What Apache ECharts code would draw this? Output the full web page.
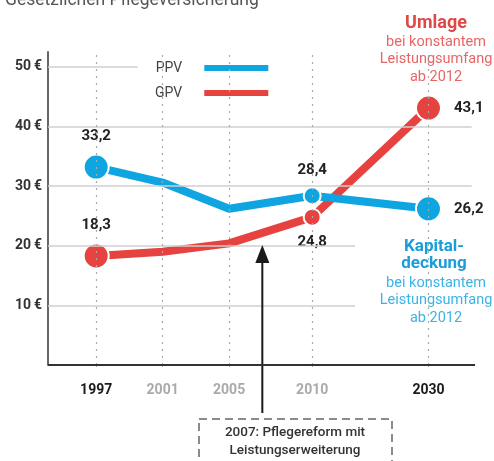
<!DOCTYPE html>
<html><head><meta charset="utf-8">
<script src="https://cdn.jsdelivr.net/npm/echarts@6/dist/echarts.min.js"></script>
<style>html,body{margin:0;padding:0;background:#fff}#c{width:494px;height:461px}</style>
</head><body><div id="c"></div>
<script>
const years = [1997, 2001, 2005, 2010, 2030];
const yearLabels = ['1997', '2001', '2005', '2010', '2030'];
const yearHighlight = [true, false, false, false, true];
const ppv = [33.2, 30.6, 26.2, 28.4, 26.2];
const gpv = [18.3, 19.0, 20.4, 24.8, 43.1];
const yTicks = [10, 20, 30, 40, 50];
const reformYear = 2007;

const BLUE = '#0ea5e0', RED = '#e6423f';
const FONT = 'Roboto';
const GRID = { left: 48, right: 19, top: 52, bottom: 96 };
const W = 494, H = 461;
const chart = echarts.init(document.getElementById('c'));

function mkData(vals, cfg) {
  return vals.map((v, i) => {
    const c = cfg[i] || {};
    const d = { value: [years[i], v] };
    if (c.size) { d.symbol = 'circle'; d.symbolSize = c.size; } else { d.symbol = 'none'; }
    if (c.label) {
      d.label = Object.assign({ show: true, formatter: () => String(v).replace('.', ','),
        fontSize: 15, fontWeight: 'bold', color: '#222', fontFamily: FONT }, c.label);
    }
    return d;
  });
}

const gridLine = (y, x2) => [{ coord: [1994.1, y] }, { coord: [x2, y] }];

chart.setOption({
  animation: false,
  grid: GRID,
  legend: {
    orient: 'vertical', left: 150, top: 56, align: 'right', itemWidth: 66, itemHeight: 8, itemGap: 11,
    icon: 'rect', textStyle: { fontSize: 14, color: '#444', fontFamily: FONT, padding: [0, 16, 0, 0] },
    data: ['PPV', 'GPV']
  },
  xAxis: {
    type: 'value', min: 1994.1, max: 2032.8,
    breaks: [{ start: 2011, end: 2029, gap: 5 }],
    breakArea: { show: false },
    axisLine: { show: false },
    axisTick: { show: true, customValues: years, length: 6, lineStyle: { color: '#aaa', type: [2, 4] } },
    axisLabel: { customValues: years, margin: 18, fontFamily: FONT,
      formatter: v => { const i = years.indexOf(v); return i < 0 ? '' : (yearHighlight[i] ? '{b|' : '{g|') + yearLabels[i] + '}'; },
      rich: {
        b: { fontSize: 14, fontWeight: 'bold', color: '#1a1a1a', fontFamily: FONT },
        g: { fontSize: 14, fontWeight: 'bold', color: '#aaa', fontFamily: FONT }
      } },
    splitLine: { show: false }
  },
  yAxis: {
    type: 'value', min: 0, max: 52.5,
    axisLine: { show: true, lineStyle: { color: '#666', width: 2 } },
    axisTick: { show: false },
    axisLabel: { customValues: yTicks, formatter: v => v + '\u2009€', fontSize: 14, fontWeight: 'bold',
      color: '#333', fontFamily: FONT, margin: 6 },
    splitLine: { show: false }
  },
  series: [
    {
      name: 'grid', type: 'line', data: [], silent: true, z: 1,
      markLine: {
        silent: true, symbol: 'none', label: { show: false },
        lineStyle: { color: '#cfcfcf', width: 1.5, type: 'solid' },
        data: [gridLine(50, 1999.5), gridLine(40, 2032.6), gridLine(30, 2032.6), gridLine(20, 2016.7), gridLine(10, 2016.7)]
      }
    },
    {
      name: 'vlines', type: 'line', data: [], silent: true, z: 1,
      markLine: {
        silent: true, symbol: 'none', label: { show: false },
        lineStyle: { color: '#aaa', width: 1.2, type: [2, 5] },
        data: years.map(y => ({ xAxis: y }))
      }
    },
    {
      name: 'PPV', type: 'line', color: BLUE, z: 3,
      lineStyle: { width: 8, color: BLUE }, itemStyle: { color: BLUE, borderColor: '#fff', borderWidth: 2 },
      data: mkData(ppv, [
        { size: 25, label: { position: 'top', distance: 10 } }, {}, {},
        { size: 17, label: { position: 'top', distance: 8 } },
        { size: 25, label: { position: 'right', distance: 12 } }
      ])
    },
    {
      name: 'GPV', type: 'line', color: RED, z: 2,
      lineStyle: { width: 8, color: RED }, itemStyle: { color: RED, borderColor: '#fff', borderWidth: 2 },
      data: mkData(gpv, [
        { size: 25, label: { position: 'top', distance: 10 } }, {}, {},
        { size: 17, label: { position: 'bottom', distance: 8 } },
        { size: 25, label: { position: 'right', distance: 12 } }
      ])
    }
  ]
});

const ax = chart.convertToPixel({ xAxisIndex: 0 }, reformYear);
const y0 = H - GRID.bottom;
const xL = GRID.left, xR = W - GRID.right;
const redLines = ['bei konstantem', 'Leistungsumfang', 'ab 2012'];
const blueLines = ['bei konstantem', 'Leistungsumfang', 'ab 2012'];
const txt = (x, y, t, size, weight, color, align) => ({
  type: 'text', x, y, style: { text: t, fontSize: size, fontWeight: weight, fill: color, fontFamily: FONT,
    align: align || 'center', verticalAlign: 'middle' }
});
chart.setOption({
  graphic: [
    { type: 'rect', shape: { x: xL, y: y0 - 1, width: xR - xL, height: 2 }, style: { fill: '#333' }, z: 100 },
    txt(5, 1, 'Gesetzlichen Pflegeversicherung', 17.5, 'normal', '#555', 'left'),
    txt(436, 23, 'Umlage', 18, 'bold', '#e04848'),
    ...redLines.map((t, i) => txt(436, 42 + i * 17.5, t, 14.5, 'normal', '#e86565')),
    txt(434, 247, 'Kapital-', 17, 'bold', '#1a9dd9'),
    txt(434, 264, 'deckung', 17, 'bold', '#1a9dd9'),
    ...blueLines.map((t, i) => txt(436, 283 + i * 17.5, t, 14.5, 'normal', '#3ab3e6')),
    { type: 'line', shape: { x1: ax, y1: 258, x2: ax, y2: 413 }, style: { stroke: '#1a1a1a', lineWidth: 2 }, z: 10 },
    { type: 'polygon', shape: { points: [[ax, 245], [ax - 7, 263], [ax + 7, 263]] }, style: { fill: '#1a1a1a' }, z: 10 },
    { type: 'rect', shape: { x: 199, y: 419, width: 193, height: 60 },
      style: { fill: 'none', stroke: '#666', lineWidth: 1.5, lineDash: [8, 5] }, z: 10 },
    txt(295, 433, '2007: Pflegereform mit', 13.5, '500', '#333'),
    txt(295, 451, 'Leistungserweiterung', 13.5, '500', '#333')
  ]
});
</script></body></html>
